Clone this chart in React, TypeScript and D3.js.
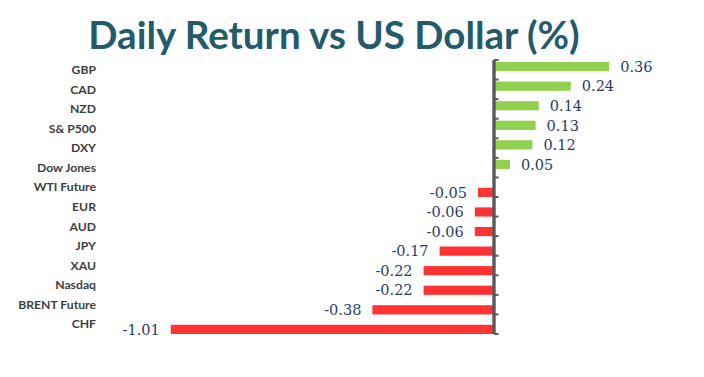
import React from "react";
import * as d3 from "d3";

const categories = ["GBP", "CAD", "NZD", "S& P500", "DXY", "Dow Jones", "WTI Future", "EUR", "AUD", "JPY", "XAU", "Nasdaq", "BRENT Future", "CHF"];
const values = [0.36, 0.24, 0.14, 0.13, 0.12, 0.05, -0.05, -0.06, -0.06, -0.17, -0.22, -0.22, -0.38, -1.01];
const valueLabels = ["0.36", "0.24", "0.14", "0.13", "0.12", "0.05", "-0.05", "-0.06", "-0.06", "-0.17", "-0.22", "-0.22", "-0.38", "-1.01"];
const title = "Daily Return vs US Dollar (%)";

const W = 704;
const H = 377;

export default function App() {
  const x = d3.scaleLinear().domain([-1.2, 0.6]).range([110, 686]);
  const y = d3.scaleBand<string>().domain(categories).range([60, 334]).padding(0);
  const step = y.step();
  const barH = 9.2;
  const x0 = x(0);

  return (
    <svg width={W} height={H} style={{ position: "absolute", left: 0, top: 0, background: "#fff" }}>
      <text x={334} y={49} textAnchor="middle" fontFamily="Lato, 'Open Sans', sans-serif" fontWeight="bold" fontSize={38.5} fill="#245B6B">
        {title}
      </text>
      {categories.map((c, i) => {
        const v = values[i];
        const top = y(c)!;
        const by = v >= 0 ? top + 2 : top + step - barH;
        const bx = v >= 0 ? x0 : x(v);
        const bw = Math.abs(x(v) - x0);
        const cy = by + barH / 2;
        return (
          <g key={c}>
            <rect x={bx} y={by} width={bw} height={barH} fill={v >= 0 ? "#92D050" : "#FF3333"} />
            <text
              x={v >= 0 ? x(v) + 11 : x(v) - 11}
              y={cy}
              dy="0.36em"
              textAnchor={v >= 0 ? "start" : "end"}
              fontFamily="'DejaVu Serif', serif"
              fontSize={14.5}
              fill="#1F3D6B"
            >
              {valueLabels[i]}
            </text>
            <text x={96} y={top + step / 2} dy="0.35em" textAnchor="end" fontFamily="Lato, sans-serif" fontWeight="bold" fontSize={12.2} fill="#404040">
              {c}
            </text>
          </g>
        );
      })}
      <line x1={x0} x2={x0} y1={60} y2={334} stroke="#595959" strokeWidth={3.4} />
      {d3.range(categories.length + 1).map((k) => {
        const ty = 60 + k * step;
        return <line key={k} x1={x0} x2={x0 + 4.5} y1={ty} y2={ty} stroke="#595959" strokeWidth={2} />;
      })}
    </svg>
  );
}
